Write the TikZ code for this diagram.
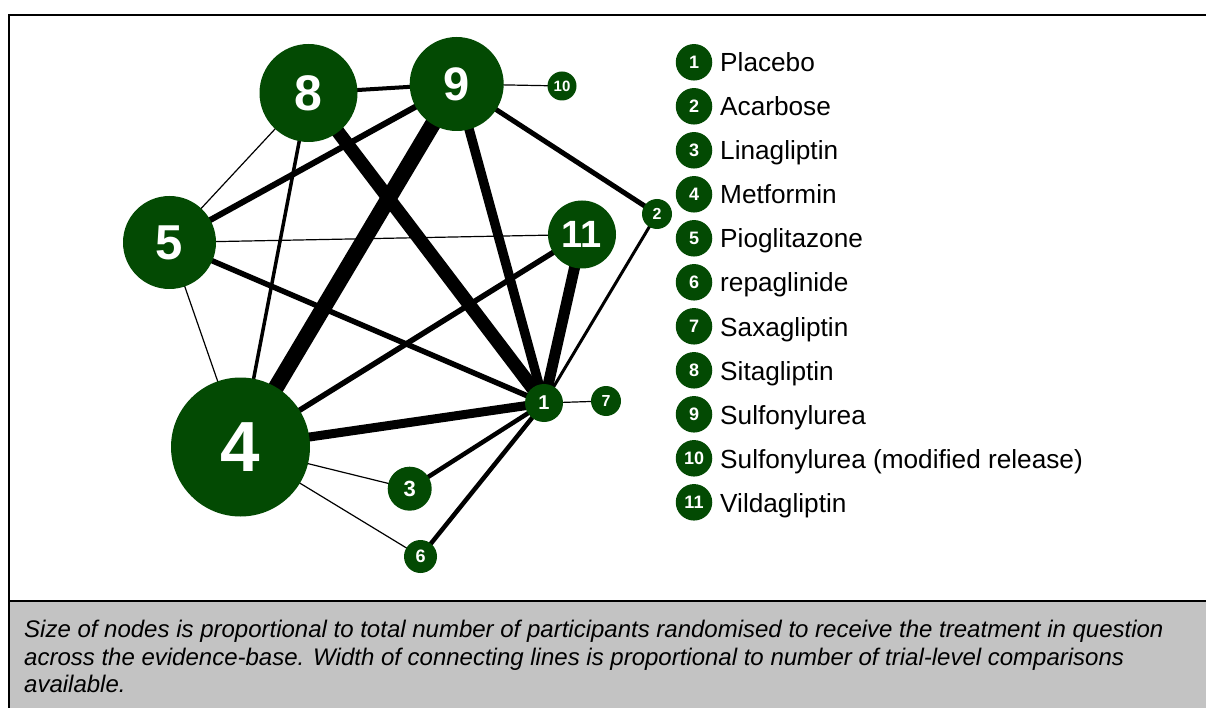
\documentclass[tikz,border=0pt]{standalone}
\usepackage{fontspec}
\setmainfont{Liberation Sans}
\pgfdeclarelayer{edges}
\pgfsetlayers{edges,main}
\definecolor{dgreen}{RGB}{3,74,3}
\definecolor{capgray}{RGB}{195,195,195}
\begin{document}
\begin{tikzpicture}[x=1pt,y=-1pt,
  gnode/.style={circle,fill=dgreen,text=white,inner sep=0pt},
  gsize/.style 2 args={minimum size=#1pt,font=\bfseries\fontsize{#2}{#2}\selectfont},
  lnode/.style={gnode,gsize={36.5}{18}},
  ltext/.style={anchor=base west,inner sep=0pt,font=\fontsize{26.2}{30}\selectfont},
  ctext/.style={anchor=base west,inner sep=0pt,font=\itshape\fontsize{24}{28}\selectfont},
  conn/.style={line width=#1pt,black}
]
\useasboundingbox (0,0) rectangle (1206,708);
% frame and caption box
\fill[capgray] (9,601) rectangle (1206,708);
\draw[line width=2pt] (9,601) -- (1206,601);
\draw[line width=2pt] (8,15.5) -- (1206,15.5);
\draw[line width=1.4pt] (9,15) -- (9,708);

% network nodes
\node[gnode,gsize={38}{20}] (n1) at (544,403) {1};
\node[gnode,gsize={30}{16}] (n2) at (657,214) {2};
\node[gnode,gsize={44}{22}] (n3) at (409.7,488.7) {3};
\node[gnode,gsize={139}{71}] (n4) at (240.5,447) {4};
\node[gnode,gsize={93}{49}] (n5) at (169.5,242.5) {5};
\node[gnode,gsize={33}{18}] (n6) at (420.5,556.5) {6};
\node[gnode,gsize={30}{16}] (n7) at (606,401) {7};
\node[gnode,gsize={98}{50}] (n8) at (308.5,93) {8};
\node[gnode,gsize={94}{47}] (n9) at (456.7,84) {9};
\node[gnode,gsize={29}{15}] (n10) at (562,86) {10};
\node[gnode,gsize={68}{38}] (n11) at (582,234.5) {11};

% connectors
\begin{pgfonlayer}{edges}
\draw[conn=4] (n8.center) -- (n9.center);
\draw[conn=1.2] (n8.center) -- (n5.center);
\draw[conn=3.5] (n8.center) -- (n4.center);
\draw[conn=13.5] (n8.center) -- (n1.center);
\draw[conn=6] (n9.center) -- (n5.center);
\draw[conn=16] (n9.center) -- (n4.center);
\draw[conn=9.5] (n9.center) -- (n1.center);
\draw[conn=5] (n9.center) -- (n2.center);
\draw[conn=1.2] (n9.center) -- (n10.center);
\draw[conn=1.2] (n5.center) -- (n11.center);
\draw[conn=5.5] (n5.center) -- (n1.center);
\draw[conn=1.2] (n5.center) -- (n4.center);
\draw[conn=5.5] (n11.center) -- (n4.center);
\draw[conn=11] (n11.center) -- (n1.center);
\draw[conn=3] (n2.center) -- (n1.center);
\draw[conn=9] (n4.center) -- (n1.center);
\draw[conn=1.2] (n4.center) -- (n3.center);
\draw[conn=1.2] (n4.center) -- (n6.center);
\draw[conn=4.5] (n1.center) -- (n3.center);
\draw[conn=4.5] (n1.center) -- (n6.center);
\draw[conn=1.2] (n1.center) -- (n7.center);
\end{pgfonlayer}

% legend
\foreach \i/\name [evaluate=\i as \yy using {62.3+44*(\i-1)}] in
  {1/Placebo,2/Acarbose,3/Linagliptin,4/Metformin,5/Pioglitazone,6/repaglinide,
   7/Saxagliptin,8/Sitagliptin,9/Sulfonylurea,10/Sulfonylurea (modified release),11/Vildagliptin}{
  \node[lnode] (l\i) at (694,\yy) {\i};
  \node[ltext] (t\i) at (720,\yy+9.7) {\name};
}

% caption
\node[ctext] (c1) at (24,637.5) {Size of nodes is proportional to total number of participants randomised to receive the treatment in question};
\node[ctext] (c2) at (24,665) {across the evidence-base. Width of connecting lines is proportional to number of trial-level comparisons};
\node[ctext] (c3) at (24,692.5) {available.};
\end{tikzpicture}
\end{document}
